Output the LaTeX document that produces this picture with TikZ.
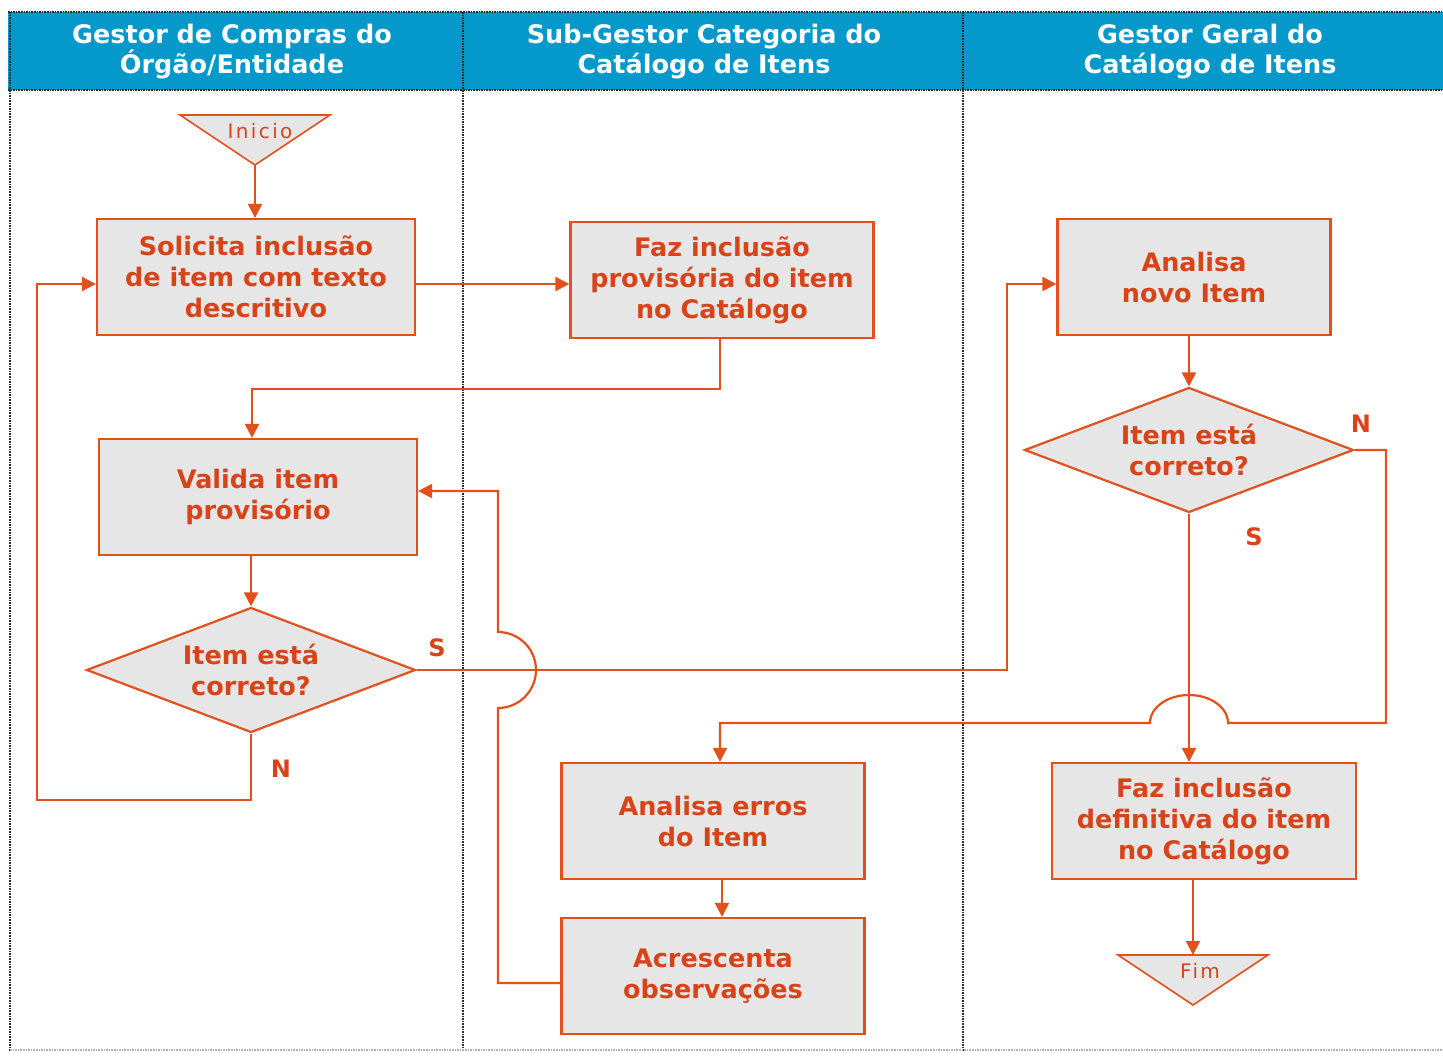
\documentclass[tikz,border=0pt]{standalone}
\usepackage{fontspec}
\setmainfont{DejaVu Sans}
\usetikzlibrary{arrows.meta,positioning,shapes.geometric,calc}
\definecolor{Lane}{HTML}{0598CB}
\definecolor{Flow}{HTML}{E2501C}
\definecolor{FlowTxt}{HTML}{D8441A}
\definecolor{Card}{HTML}{E6E6E6}
\definecolor{Dots}{HTML}{2A2A2A}

\begin{document}
\begin{tikzpicture}[x=1pt,y=-1pt,
  box/.style={draw=Flow, fill=Card, line width=2.2pt, text=FlowTxt,
    font=\bfseries\fontsize{25.5}{31}\selectfont, align=center,
    minimum height=116pt, inner sep=2pt},
  ask/.style={diamond, aspect=2.63, draw=Flow, fill=Card, line width=2.2pt,
    text=FlowTxt, font=\bfseries\fontsize{25.5}{31}\selectfont, align=center,
    minimum width=329pt, minimum height=125pt, inner sep=0pt},
  flow/.style={draw=Flow, line width=2.2pt, -{Triangle[length=14pt,width=14pt]}},
  tag/.style={text=FlowTxt, font=\bfseries\fontsize{24}{28}\selectfont},
  lanehead/.style={text=white, font=\bfseries\fontsize{25.5}{30}\selectfont, align=center},
  term/.style={draw=Flow, fill=Card, line width=1.6pt},
  termtext/.style={text=FlowTxt, font=\fontsize{20}{22}\selectfont\addfontfeature{LetterSpace=12}},
  sep/.style={draw=Dots, densely dotted, line width=1.6pt}]
  \useasboundingbox (0,0) rectangle (1443,1057);

  % lanes
  \fill[Lane] (8,12) rectangle (1443,90);
  \draw[sep] (8,12) -- (1443,12);
  \draw[sep] (8,90) -- (1443,90);
  \foreach \x in {10,463,963} {
    \draw[sep] (\x,12) -- (\x,1052);
  }
  \draw[sep, draw=gray!60] (10,1050) -- (1443,1050);
  \node[lanehead] (laneA) at (232,52) {Gestor de Compras do\\Órgão/Entidade};
  \node[lanehead] (laneB) at (704,52) {Sub-Gestor Categoria do\\Catálogo de Itens};
  \node[lanehead] (laneC) at (1210,52) {Gestor Geral do\\Catálogo de Itens};

  % terminals
  \draw[term] (180,115) -- (330,115) -- (255,165) -- cycle;
  \node[termtext] (inicio) at (260,131) {Inicio};
  \coordinate (inicioTip) at (255,165);
  \draw[term] (1118,955) -- (1268,955) -- (1193,1005) -- cycle;
  \node[termtext] (fim) at (1200,971) {Fim};
  \coordinate (fimTop) at (1193,955);

  % steps
  \node[box, minimum width=318pt] (solicita) at (256,277) {Solicita inclusão\\de item com texto\\descritivo};
  \node[box, minimum width=303pt] (provisoria) at (722,280) {Faz inclusão\\provisória do item\\no Catálogo};
  \node[box, minimum width=273pt] (analisa) at (1194,277) {Analisa\\novo Item};
  \node[box, minimum width=318pt] (valida) at (258,497) {Valida item\\provisório};
  \node[ask] (correto) at (251,670) {Item está\\correto?};
  \node[ask] (confere) at (1189,450) {Item está\\correto?};
  \node[box, minimum width=303pt] (erros) at (713,821) {Analisa erros\\do Item};
  \node[box, minimum width=303pt] (observa) at (713,976) {Acrescenta\\observações};
  \node[box, minimum width=304pt] (definitiva) at (1204,821) {Faz inclusão\\definitiva do item\\no Catálogo};

  % bends
  \coordinate (rowA) at (0,284);
  \coordinate (rowB) at (0,983);
  \coordinate (rowC) at (0,491);
  \coordinate (loopN) at (37,800);
  \coordinate (upS) at (1007,284);
  \coordinate (backN) at (1386,723);
  \coordinate (crossS) at (498,670);
  \coordinate (dropA) at (252,389);

  % connectors
  \draw[flow] (inicioTip) -- (inicioTip |- solicita.north);
  \draw[flow] (solicita.east |- rowA) -- (provisoria.west |- rowA);
  \draw[flow] ([xshift=-2pt]provisoria.south) |- (dropA) -- (dropA |- valida.north);
  \draw[flow] (valida.south -| correto.north) -- (correto.north);
  \draw[flow] (correto.south) |- (loopN) |- (solicita.west |- rowA);
  \draw[flow] (correto.east) -| (upS) -- (analisa.west |- rowA);
  \draw[flow] (analisa.south -| confere.north) -- (confere.north);
  \draw[flow] (confere.south) -- (confere.south |- definitiva.north);
  \draw[flow] (confere.east) -| (backN) -- ($(confere.south |- backN)+(39,0)$)
    arc[start angle=0, end angle=180, x radius=39pt, y radius=28pt]
    -- ($(erros.north |- backN)+(7,0)$) -- ($(erros.north)+(7,0)$);
  \draw[flow] ([xshift=9pt]erros.south) -- ([xshift=9pt]observa.north);
  \draw[flow] (observa.west |- rowB) -| ($(crossS)+(0,38)$)
    arc[start angle=-90, end angle=90, radius=38pt] |- (valida.east |- rowC);
  \draw[flow] (definitiva.south -| fimTop) -- (fimTop);

  % answers
  \node[tag] (simA) at (437,648) {S};
  \node[tag] (naoA) at (281,769) {N};
  \node[tag] (naoB) at (1361,424) {N};
  \node[tag] (simB) at (1254,537) {S};
\end{tikzpicture}
\end{document}
